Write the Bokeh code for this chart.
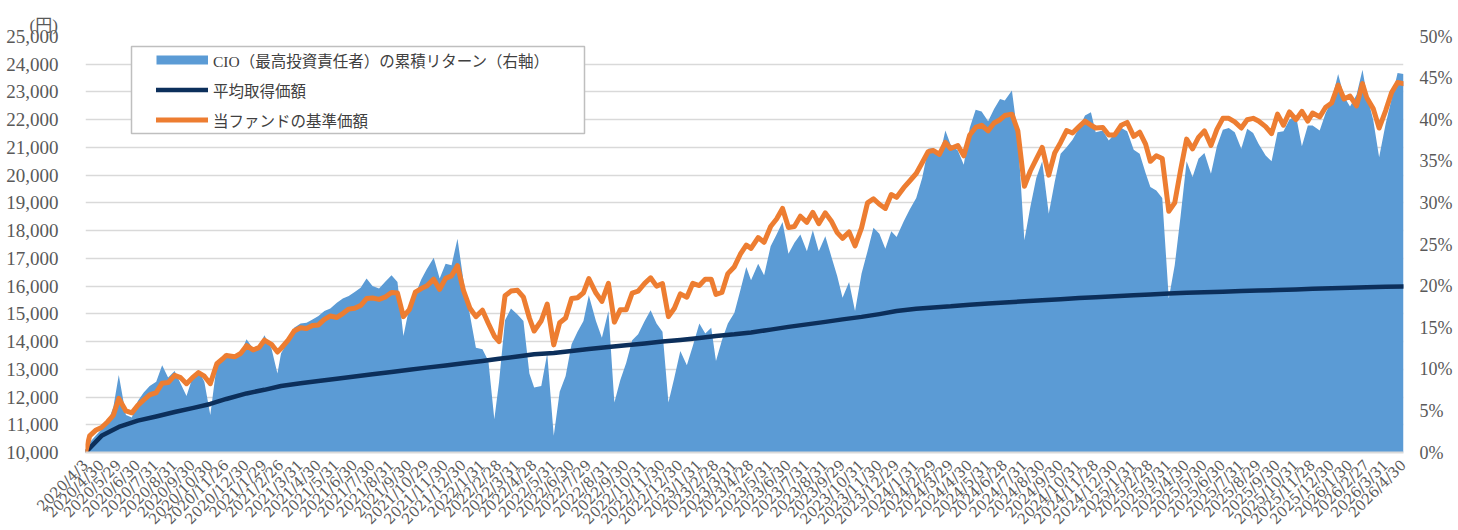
import pandas as pd
from math import pi
from bokeh.plotting import figure
from bokeh.models import (ColumnDataSource, Range1d, LinearAxis, FixedTicker,
                          NumeralTickFormatter, PrintfTickFormatter, Legend,
                          LegendItem, BoxAnnotation)
from bokeh.embed import file_html
from bokeh.resources import INLINE

# ---------------- data ----------------
TICK_LABELS = [
    "2020/4/3", "2020/4/30", "2020/5/29", "2020/6/30", "2020/7/31", "2020/8/31",
    "2020/9/30", "2020/10/30", "2020/11/26", "2020/12/30",
    "2021/1/29", "2021/2/26", "2021/3/31", "2021/4/30", "2021/5/31", "2021/6/30",
    "2021/7/30", "2021/8/31", "2021/9/30", "2021/10/29", "2021/11/30", "2021/12/30",
    "2022/1/31", "2022/2/28", "2022/3/31", "2022/4/28", "2022/5/31", "2022/6/30",
    "2022/7/29", "2022/8/31", "2022/9/30", "2022/10/31", "2022/11/30", "2022/12/30",
    "2023/1/31", "2023/2/28", "2023/3/31", "2023/4/28", "2023/5/31", "2023/6/30",
    "2023/7/31", "2023/8/31", "2023/9/29", "2023/10/31", "2023/11/30", "2023/12/29",
    "2024/1/31", "2024/2/29", "2024/3/29", "2024/4/30", "2024/5/31", "2024/6/28",
    "2024/7/31", "2024/8/30", "2024/9/30", "2024/10/31", "2024/11/28", "2024/12/30",
    "2025/1/31", "2025/2/28", "2025/3/31", "2025/4/30", "2025/5/30", "2025/6/30",
    "2025/7/31", "2025/8/29", "2025/9/30", "2025/10/31", "2025/11/28", "2025/12/30",
    "2026/1/30", "2026/2/27", "2026/3/31", "2026/4/30",
]

# 当ファンドの基準価額 (start, then 10th / 20th / month-end of each month)
NAV = [10000,
    10600, 10800, 10900,  11100, 11350, 11950,  11500, 11430, 11700,
    11900, 12080, 12160,  12500, 12520, 12780,  12700, 12480, 12700,
    12880, 12750, 12480,  13200, 13380, 13500,  13450, 13570, 13850,
    13700, 13780, 14050,  13900, 13620, 13750,  14050, 14380, 14500,
    14470, 14580, 14600,  14800, 14920, 14870,  15010, 15170, 15200,
    15300, 15550, 15570,  15520, 15600, 15770,  15750, 14900, 15150,
    15780, 15910, 16000,  16250, 15880, 16280,  16370, 16740, 15850,
    15200, 14900, 15130,  14650, 14200, 14000,  15650, 15820, 15850,
    15600, 14850, 14380,  14750, 15350, 13880,  14680, 14850, 15550,
    15580, 15760, 16270,  15750, 15450, 16100,  14700, 15150, 15150,
    15750, 15820, 16100,  16300, 16000, 16090,  14900, 15200, 15720,
    15600, 16100, 16020,  16250, 16250, 15700,  15770, 16450, 16700,
    17150, 17480, 17360,  17750, 17580, 18150,  18420, 18800, 18110,
    18150, 18520, 18300,  18660, 18250, 18640,  18350, 17930, 17720,
    17950, 17450, 18100,  19000, 19150, 18950,  18800, 19300, 19200,
    19550, 19790, 20060,  20450, 20850, 20890,  20750, 21180, 20960,
    21070, 20700, 21450,  21720, 21800, 21600,  21880, 22000, 22150,
    22200, 21600, 19600,  20150, 20580, 21000,  20000, 20800, 21180,
    21610, 21520, 21750,  21950, 21800, 21700,  21720, 21450, 21450,
    21800, 21900, 21400,  21550, 21120, 20500,  20700, 20600, 18700,
    19000, 20200, 21300,  20950, 21360, 21600,  21070, 21650, 22050,
    22050, 21920, 21700,  22000, 22050, 21950,  21750, 21500, 22200,
    21800, 22280, 22000,  22300, 21950, 22240,  22100, 22450, 22600,
    23250, 22750, 22850,  22500, 23300, 22800,  22400, 21700, 22330,
    22980, 23340, 23300,
]

# CIO（最高投資責任者）の累積リターン (%), same dates as NAV
CIO_RETURN = [0.0,
    1.2, 2.0, 2.8,  3.5, 5.5, 9.3,  4.5, 4.2, 6.2,
    7.2, 8.0, 8.5,  10.5, 9.0, 9.8,  8.3, 6.8, 9.0,
    9.9, 8.5, 4.5,  10.6, 11.3, 12.0,  11.4, 11.9, 13.6,
    12.5, 12.6, 14.1,  12.5, 9.5, 11.9,  13.4, 15.0, 15.5,
    15.6, 16.0, 16.4,  17.0, 17.3, 18.0,  18.5, 18.8, 19.3,
    19.8, 20.9, 20.0,  19.7, 20.5, 21.3,  20.5, 14.0, 17.5,
    19.0, 20.8, 22.0,  23.4, 20.9, 22.7,  22.5, 25.7, 20.7,
    16.5, 12.6, 12.4,  11.0, 4.0, 8.5,  15.9, 17.3, 16.6,
    15.8, 9.5, 7.8,  8.0, 11.9, 2.0,  7.3, 9.2, 13.0,
    14.5, 15.8, 18.9,  15.8, 13.8, 17.0,  6.0, 8.7, 10.8,
    13.5, 14.2, 15.8,  17.1, 15.5, 14.5,  6.0, 9.0, 12.2,
    10.5, 12.8, 15.5,  14.3, 15.0, 11.0,  13.5, 15.5, 16.8,
    19.5, 22.3, 20.7,  22.7, 21.3, 24.8,  26.2, 27.7, 23.9,
    25.2, 26.2, 24.2,  26.7, 24.2, 26.0,  23.6, 21.2, 18.6,
    20.5, 17.0, 21.5,  24.2, 27.0, 26.3,  24.5, 26.6, 25.9,
    27.8, 29.2, 30.6,  33.0, 36.5, 36.6,  35.5, 38.7, 37.0,
    36.3, 34.6, 39.0,  41.2, 41.0, 39.8,  41.3, 42.5, 42.3,
    43.5, 38.0, 25.5,  29.5, 33.0, 35.0,  28.7, 32.5, 35.9,
    36.7, 37.6, 39.0,  40.5, 40.9, 38.5,  38.7, 37.5, 38.3,
    39.0, 38.6, 36.4,  35.9, 33.6, 31.9,  31.5, 30.6, 18.5,
    22.5, 28.5, 35.0,  33.1, 35.3, 36.0,  33.5, 36.8, 38.8,
    39.0, 38.5, 36.5,  38.9, 38.4, 37.1,  35.7, 35.0, 38.5,
    38.6, 40.0, 40.5,  36.8, 39.3, 39.3,  38.7, 40.8, 42.3,
    45.5, 42.8, 41.6,  43.0, 46.0, 43.1,  40.0, 35.5, 39.5,
    42.5, 45.6, 45.5,
]

# 平均取得価額 at each tick date
AVG_COST = [
    10000, 10600, 10920, 11150, 11300, 11460, 11600, 11750, 11930, 12130,
    12260, 12400, 12500, 12580, 12660, 12740, 12820, 12900, 12980, 13060, 13140, 13220,
    13300, 13380, 13460, 13540, 13590, 13660, 13730, 13800, 13870, 13930, 14000, 14060,
    14130, 14200, 14260, 14330, 14430, 14530, 14620, 14710, 14800, 14890, 14990, 15100,
    15180, 15230, 15270, 15330, 15370, 15410, 15450, 15490, 15530, 15570, 15600, 15630,
    15670, 15700, 15730, 15760, 15780, 15800, 15820, 15840, 15860, 15880, 15900, 15920,
    15940, 15960, 15975, 15990,
]

LEGEND_LABELS = ["CIO（最高投資責任者）の累積リターン（右軸）", "平均取得価額", "当ファンドの基準価額"]
UNIT_LABEL = "(円)"

# ---------------- dates ----------------
tick_dates = pd.to_datetime(TICK_LABELS, format="%Y/%m/%d")
dates = [tick_dates[0]]
for d in tick_dates[1:]:
    dates += [pd.Timestamp(d.year, d.month, 10), pd.Timestamp(d.year, d.month, 20), d]
tick_ms = [float(d.value // 10**6) for d in tick_dates]

SERIF = "Liberation Serif"
JP = "'Liberation Serif', 'Noto Sans CJK JP'"
GRAY = "#595959"

p = figure(frame_width=1318, frame_height=416, x_axis_type="datetime",
           x_range=Range1d(tick_dates[0], tick_dates[-1]),
           y_range=Range1d(10000, 25000),
           output_backend="svg", toolbar_location=None,
           min_border_left=85, min_border_right=55, min_border_top=36,
           min_border_bottom=72, outline_line_color=None,
           background_fill_color="white", border_fill_color="white")
p.extra_y_ranges = {"pct": Range1d(0, 50)}

# unit label as title
p.title.text = UNIT_LABEL
p.title.align = "left"
p.title.offset = -56
p.title.standoff = 4
p.title.text_font = JP
p.title.text_font_size = "17px"
p.title.text_font_style = "normal"
p.title.text_color = GRAY

src = ColumnDataSource(dict(x=dates, nav=NAV, cio=CIO_RETURN))
r_area = p.varea(x="x", y1=0, y2="cio", source=src, y_range_name="pct",
                 fill_color="#5B9BD5")
r_avg = p.line(x=list(tick_dates), y=AVG_COST, line_color="#0C2F5B", line_width=4.5,
               line_cap="round", line_join="round")
r_nav = p.line(x="x", y="nav", source=src, line_color="#ED7D31", line_width=5,
               line_cap="round", line_join="round")
r_patch = p.line(x=[dates[0]], y=[float("nan")], line_color="#5B9BD5", line_width=9)

# axes
yl = p.yaxis[0]
yl.ticker = FixedTicker(ticks=list(range(10000, 25001, 1000)))
yl.formatter = NumeralTickFormatter(format="0,0")
yr = LinearAxis(y_range_name="pct", ticker=FixedTicker(ticks=list(range(0, 51, 5))),
                formatter=PrintfTickFormatter(format="%d%%"))
p.add_layout(yr, "right")
for ax, so, fs in ((yl, 21, "19px"), (yr, 10, "18px")):
    ax.axis_line_color = None
    ax.major_tick_line_color = None
    ax.minor_tick_line_color = None
    ax.major_label_text_font = SERIF
    ax.major_label_text_font_size = fs
    ax.major_label_text_color = GRAY
    ax.major_label_standoff = so

xa = p.xaxis[0]
xa.ticker = FixedTicker(ticks=tick_ms)
xa.major_label_overrides = {ms: lab for ms, lab in zip(tick_ms, TICK_LABELS)}
xa.major_label_orientation = pi / 4
xa.major_label_text_font = "DejaVu Serif"
xa.major_label_text_font_size = "14.5px"
xa.major_label_text_color = GRAY
xa.major_label_standoff = 4
xa.major_tick_line_color = None
xa.minor_tick_line_color = None
xa.axis_line_color = "#D9D9D9"
xa.axis_line_width = 2

p.xgrid.visible = False
p.ygrid.ticker = yl.ticker
p.ygrid.grid_line_color = "#D9D9D9"
p.ygrid.grid_line_width = 1.5

# legend box + legend
p.add_layout(BoxAnnotation(left=46, right=499, top=406, bottom=319,
                           left_units="screen", right_units="screen",
                           top_units="screen", bottom_units="screen",
                           fill_color="white", fill_alpha=1,
                           line_color="#BFBFBF", line_width=1.5, line_alpha=1))
legend = Legend(items=[LegendItem(label=LEGEND_LABELS[0], renderers=[r_patch]),
                       LegendItem(label=LEGEND_LABELS[1], renderers=[r_avg]),
                       LegendItem(label=LEGEND_LABELS[2], renderers=[r_nav])],
                location=(69, 319), padding=2, spacing=7, margin=0,
                label_height=23, glyph_height=23, glyph_width=52, label_standoff=5,
                border_line_alpha=0, background_fill_alpha=0,
                label_text_font=JP, label_text_font_size="15.5px",
                label_text_color="#404040")
p.add_layout(legend, "center")

open("out.html", "w", encoding="utf-8").write(file_html(p, INLINE, title="chart"))
